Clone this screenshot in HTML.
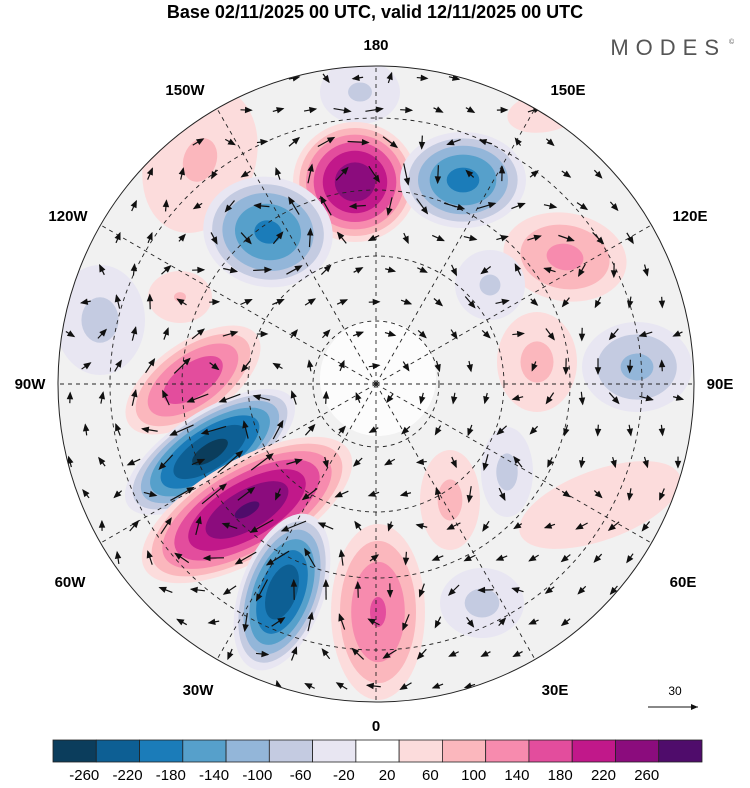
<!DOCTYPE html>
<html><head><meta charset="utf-8"><style>
body{margin:0;background:#fff;width:750px;height:783px;overflow:hidden;font-family:"Liberation Sans",sans-serif}
svg text{font-family:"Liberation Sans",sans-serif}
</style></head><body>
<svg id="s" width="750" height="783" xmlns="http://www.w3.org/2000/svg">
<text x="375" y="18" text-anchor="middle" font-size="18" font-weight="bold">Base 02/11/2025 00 UTC, valid 12/11/2025 00 UTC</text>
<text x="726" y="55" text-anchor="end" font-size="22" fill="#555" letter-spacing="7">MODES</text>
<text x="729" y="44" font-size="7" fill="#555">©</text>
<defs><clipPath id="cp"><circle cx="376" cy="384" r="318"/></clipPath></defs>
<g id="map" clip-path="url(#cp)">
<circle cx="376" cy="384" r="318" fill="#f1f1f1"/>
<g id="blobs"></g>
<circle cx="378" cy="378" r="58" fill="#fdfdfd" opacity="0.9"/>
<g id="grid" fill="none" stroke="#222" stroke-width="0.9" stroke-dasharray="4,4"></g>
<g id="arrows" stroke="#111" fill="#111"></g>
</g>
<circle cx="376" cy="384" r="318" fill="none" stroke="#222" stroke-width="1"/>
<g id="lonlabels" font-size="15" font-weight="bold"></g>
<g id="cbar"></g>
<g>
<text x="675" y="695" text-anchor="middle" font-size="12">30</text>
<line x1="648" y1="707" x2="698" y2="707" stroke="#111" stroke-width="1"/>
<path d="M698 707 l-7 -3 l0 6 z" fill="#111"/>
</g>
</svg>
<script>
const NS="http://www.w3.org/2000/svg";
const levels=[-260,-220,-180,-140,-100,-60,-20,20,60,100,140,180,220,260];
const colors=["#0b3d5c","#0d5f94","#1b7cb9","#56a0cb","#93b6d9","#c4cbe1","#e8e6f2","#ffffff","#fcdcdc","#fbb7bd","#f78bae","#e34d9d","#c1188a","#8b0c7d","#4f0c6b"];
// anomaly centres: cx, cy, outer rx, outer ry, rotation(deg), peak value
const blobCx=[200,545,360,100,180,600,355,463,268,193,210,247,282,378,565,637,537,507,450,482,490];
const blobCy=[160,112,92,320,297,505,182,180,232,380,452,510,592,612,257,367,362,472,500,603,285];
const blobRx=[55,38,40,45,32,85,62,63,65,78,98,118,42,47,62,55,40,26,30,42,35];
const blobRy=[75,20,32,55,26,35,60,48,55,38,40,50,82,88,44,45,50,45,50,35,35];
const blobRot=[20,-10,0,0,0,-20,0,0,10,-35,-33,-30,20,0,10,0,0,0,0,0,0];
const blobPeak=[65,45,-65,-70,62,45,250,-195,-190,175,-275,265,-255,145,110,-110,70,-70,70,-70,-65];
function colorFor(v){let i=0;while(i<levels.length&&v>levels[i])i++;return colors[i];}
const bg=document.getElementById('blobs');
for(let b=0;b<blobCx.length;b++){
  const p=blobPeak[b],sgn=p>0?1:-1,ap=Math.abs(p);
  const th=sgn>0?levels.filter(l=>l>0&&l<p):levels.filter(l=>l<0&&l>p).reverse();
  th.forEach(t=>{
    const k=Math.pow((ap-Math.abs(t))/(ap-20),0.55);
    const e=document.createElementNS(NS,'ellipse');
    
    
    e.setAttribute('cx',blobCx[b]);e.setAttribute('cy',blobCy[b]);
    e.setAttribute('rx',blobRx[b]*k);e.setAttribute('ry',blobRy[b]*k);
    e.setAttribute('transform',`rotate(${blobRot[b]} ${blobCx[b]} ${blobCy[b]})`);
    e.setAttribute('fill',colorFor(t+sgn));
    bg.appendChild(e);
  });
}
// grid
const cx=376,cy=384,R=318,gg=document.getElementById('grid');
[63,128,194,266].forEach(r=>{
 const c=document.createElementNS(NS,'circle');
 
 
 c.setAttribute('cx',cx);c.setAttribute('cy',cy);c.setAttribute('r',r);gg.appendChild(c);});
for(let lon=0;lon<360;lon+=30){const a=lon*Math.PI/180;
 const l=document.createElementNS(NS,'line');
 
 
 l.setAttribute('x1',cx);l.setAttribute('y1',cy);l.setAttribute('x2',cx+R*Math.sin(a));l.setAttribute('y2',cy+R*Math.cos(a));gg.appendChild(l);}
// lon labels
const lonNames=["0","30E","60E","90E","120E","150E","180","150W","120W","90W","60W","30W"];
const lonLX=[376,555,683,720,690,568,376,185,68,30,70,198];
const lonLY=[726,690,582,384,216,90,45,90,216,384,582,690];
const lg=document.getElementById('lonlabels');
lonNames.forEach((n,i)=>{
 const t=document.createElementNS(NS,'text');
 
 
 t.setAttribute('x',lonLX[i]);t.setAttribute('y',lonLY[i]+5);t.setAttribute('text-anchor','middle');t.textContent=n;lg.appendChild(t);});
// arrows from geostrophic field
function grad(x,y){let gx=0,gy=0;for(let b=0;b<blobCx.length;b++){const a=-blobRot[b]*Math.PI/180;
 const sx=blobRx[b]*0.75,sy=blobRy[b]*0.75;
 const dx=x-blobCx[b],dy=y-blobCy[b];const u=(dx*Math.cos(a)-dy*Math.sin(a))/sx,v=(dx*Math.sin(a)+dy*Math.cos(a))/sy;
 const e=blobPeak[b]*Math.exp(-(u*u+v*v));
 const du=-2*u*e/sx,dv=-2*v*e/sy;
 gx+=du*Math.cos(a)+dv*Math.sin(a);gy+=-du*Math.sin(a)+dv*Math.cos(a);}return [gx,gy];}
const ag=document.getElementById('arrows');
for(let y=78;y<700;y+=32)for(let x=70+((Math.round(y/32))%2)*16;x<690;x+=32){
 if((x-cx)**2+(y-cy)**2>R*R-300)continue;
 const g=grad(x,y);let wx=g[1]*0.45,wy=-g[0]*0.45;
 const rx=x-cx,ry=y-cy,rr=Math.hypot(rx,ry)+1;wx+= -ry/rr*0.5;wy+=rx/rr*0.5;
 let m=Math.hypot(wx,wy);if(m<0.15)continue;const L=Math.min(34,8+m*5);
 const ux=wx/m,uy=wy/m,x2=x+ux*L/2,y2=y+uy*L/2;
 const p=document.createElementNS(NS,'path');
 
 
 p.setAttribute('d',`M${x-ux*L/2} ${y-uy*L/2}L${x2} ${y2}`);p.setAttribute('stroke-width','1.2');ag.appendChild(p);
 const h=document.createElementNS(NS,'path');
 
 
 h.setAttribute('d',`M${x2} ${y2}L${x2-ux*6-uy*2.5} ${y2-uy*6+ux*2.5}L${x2-ux*6+uy*2.5} ${y2-uy*6-ux*2.5}Z`);ag.appendChild(h);}
// colorbar
const cb=document.getElementById('cbar');const x0=53,x1=702,bw=(x1-x0)/colors.length;
colors.forEach((c,i)=>{const r=document.createElementNS(NS,'rect');
 
 
 r.setAttribute('x',x0+i*bw);r.setAttribute('y',740);r.setAttribute('width',bw);r.setAttribute('height',22);r.setAttribute('fill',c);r.setAttribute('stroke','#222');r.setAttribute('stroke-width','0.8');cb.appendChild(r);});
levels.forEach((l,i)=>{const t=document.createElementNS(NS,'text');
 
 
 t.setAttribute('x',x0+(i+1)*bw-12);t.setAttribute('y',780);t.setAttribute('text-anchor','middle');t.setAttribute('font-size','15');t.textContent=l;cb.appendChild(t);});
</script>
</body></html>
